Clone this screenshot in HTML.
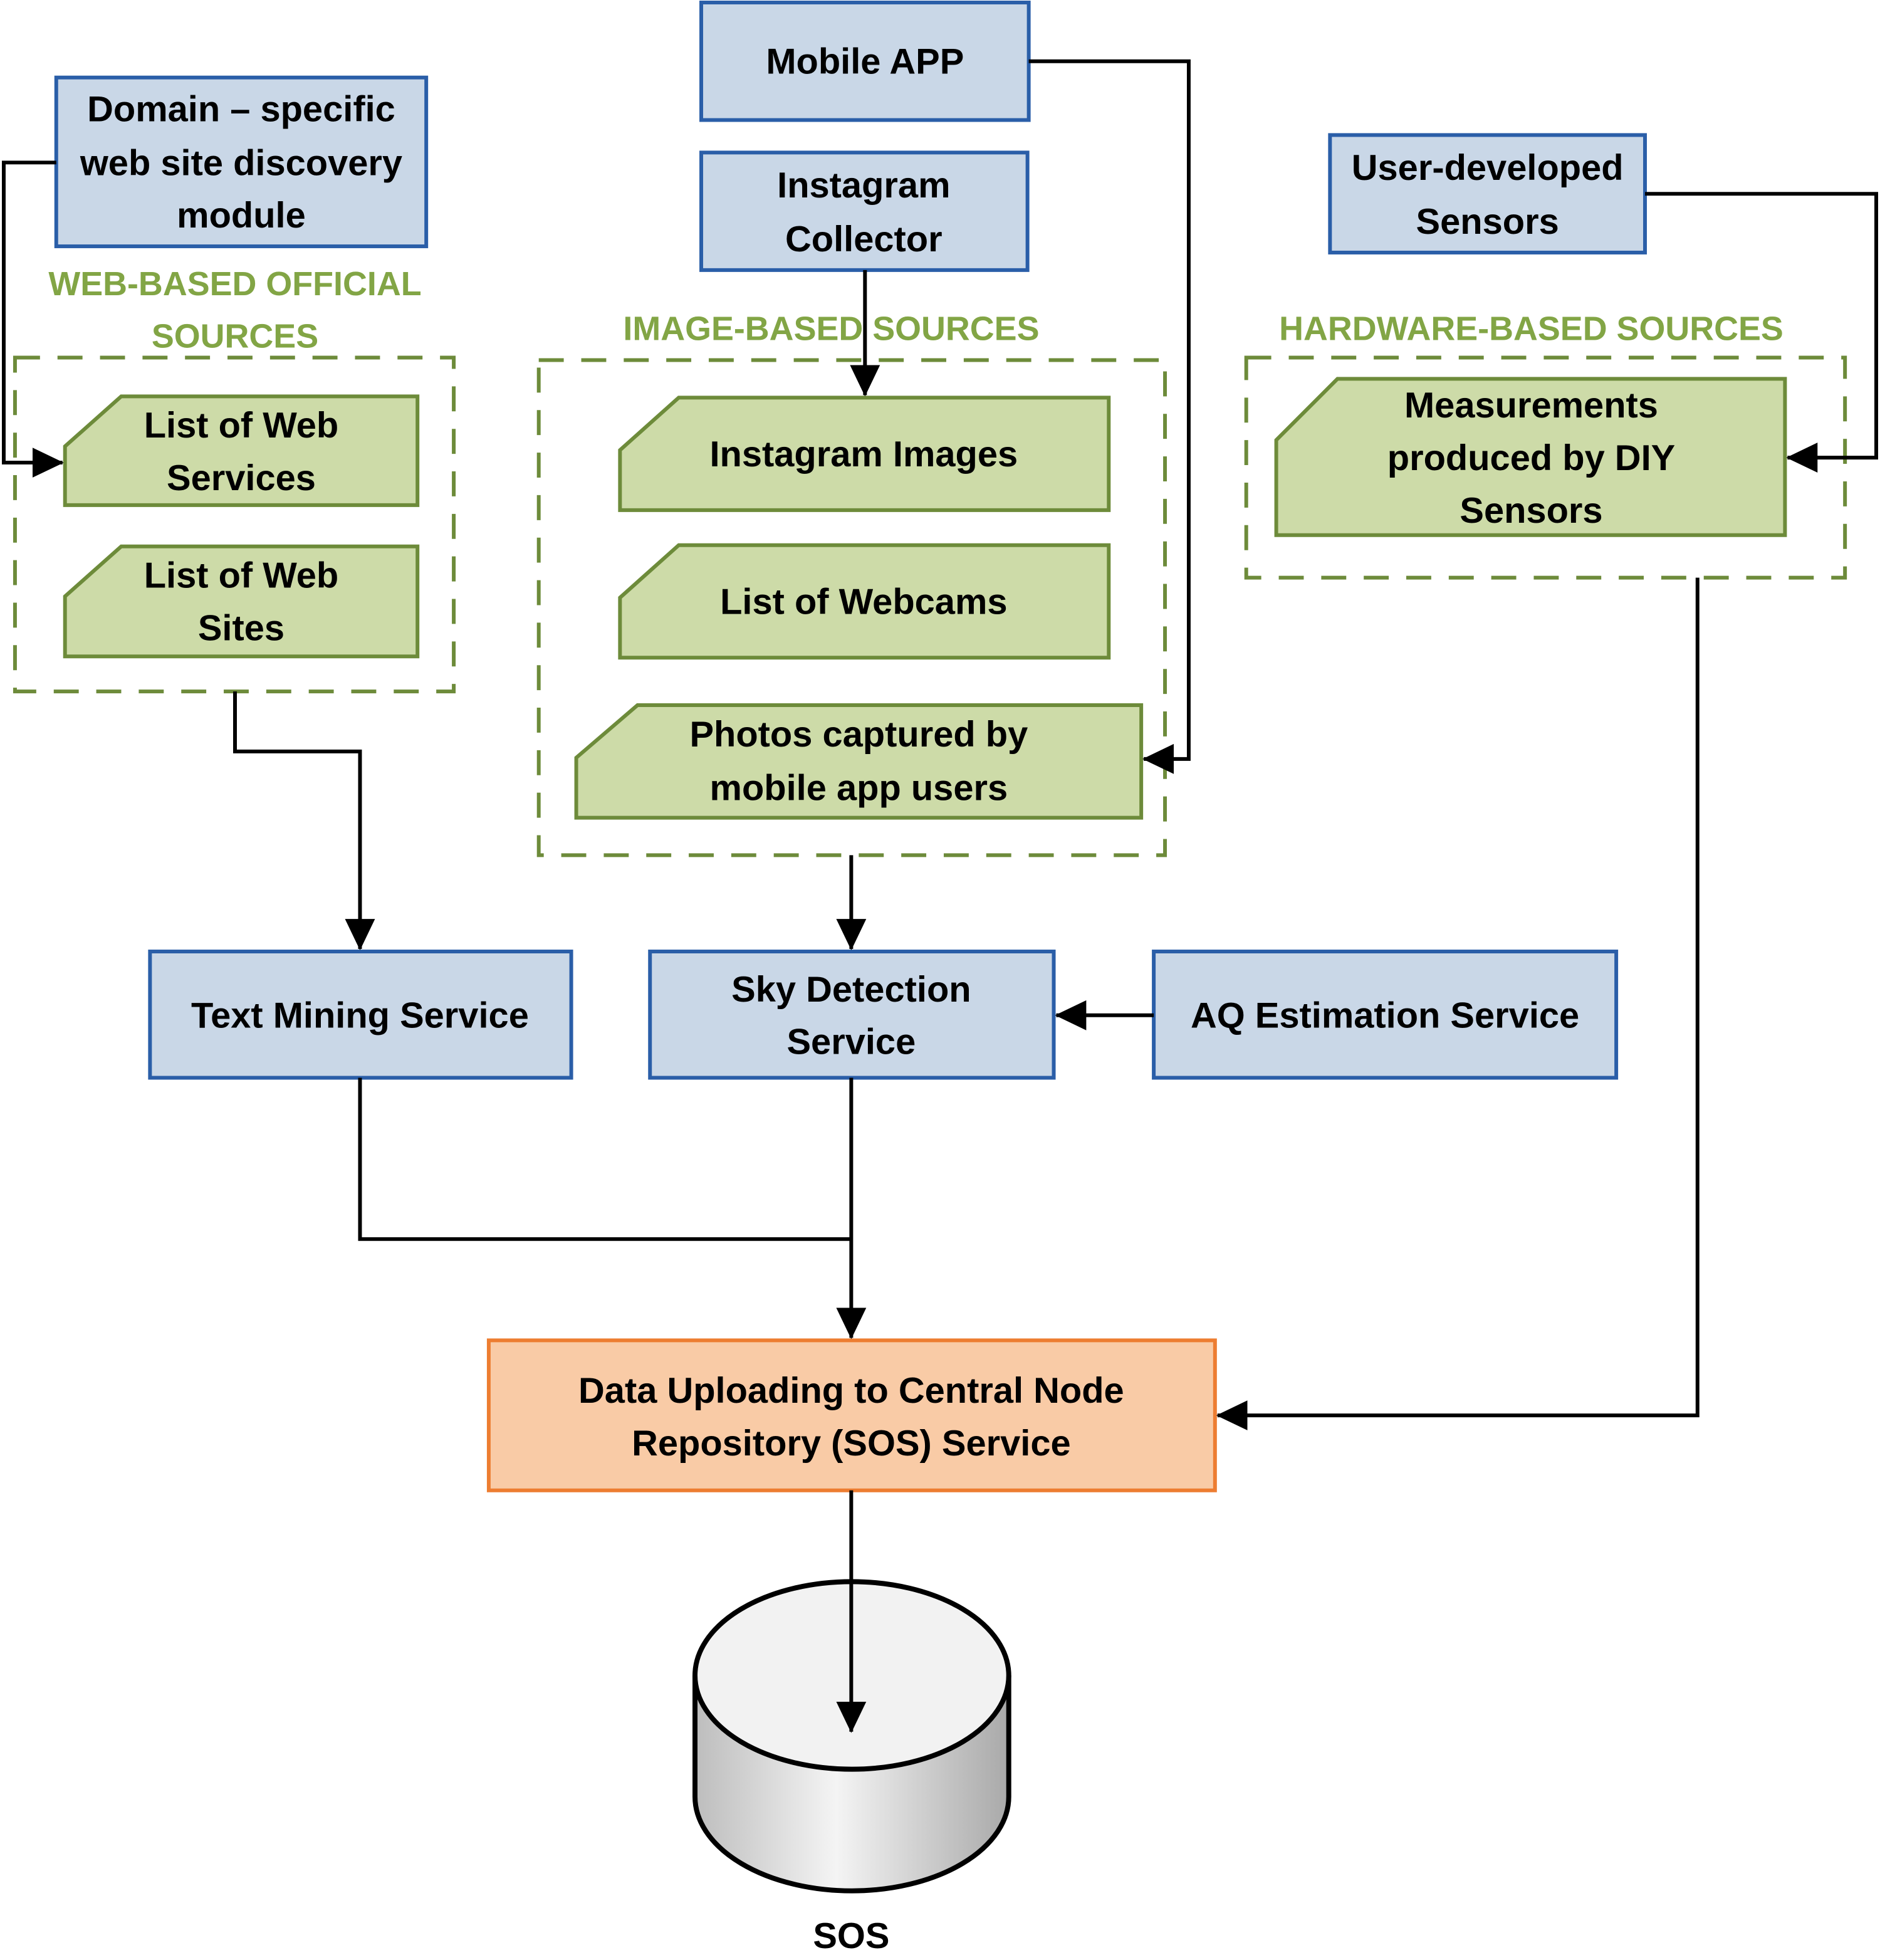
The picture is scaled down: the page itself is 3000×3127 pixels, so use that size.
<!DOCTYPE html>
<html><head><meta charset="utf-8"><style>
html,body{margin:0;padding:0;background:#fff}
svg{display:block}
text{font-family:"Liberation Sans",sans-serif;font-weight:bold}
</style></head><body>
<svg width="3000" height="3127" viewBox="0 0 1504 1567.6" preserveAspectRatio="none" xmlns="http://www.w3.org/2000/svg">
<defs>
<marker id="a" markerUnits="userSpaceOnUse" markerWidth="26" markerHeight="26" viewBox="0 0 26 26" refX="24" refY="13" orient="auto">
<path d="M0,1 L25,13 L0,25 Z" fill="#000"/></marker>
<linearGradient id="g" x1="0" x2="1" y1="0" y2="0">
<stop offset="0" stop-color="#bdbdbd"/><stop offset="0.45" stop-color="#f4f4f4"/><stop offset="1" stop-color="#a9a9a9"/></linearGradient>
</defs>
<g fill="#c9d7e7" stroke="#2a5ea8" stroke-width="3">
<rect x="45" y="62" width="296" height="135"/>
<rect x="561" y="2" width="262" height="94"/>
<rect x="561" y="122" width="261" height="94"/>
<rect x="1064" y="108" width="252" height="94"/>
<rect x="120" y="761" width="337" height="101"/>
<rect x="520" y="761" width="323" height="101"/>
<rect x="923" y="761" width="370" height="101"/>
</g>
<rect x="391" y="1072" width="581" height="120" fill="#f9cba6" stroke="#ed7d31" stroke-width="3"/>
<g fill="none" stroke="#6d8b3a" stroke-width="3" stroke-dasharray="20,14">
<rect x="12" y="286" width="351" height="267"/>
<rect x="431" y="288" width="501" height="396"/>
<rect x="997" y="286" width="479" height="176"/>
</g>
<g fill="#cddba8" stroke="#6d8b3a" stroke-width="3">
<path d="M97,317 H334 V404 H52 V357 Z"/>
<path d="M97,437 H334 V525 H52 V477 Z"/>
<path d="M543,318 H887 V408 H496 V360 Z"/>
<path d="M543,436 H887 V526 H496 V478 Z"/>
<path d="M510,564 H913 V654 H461 V606 Z"/>
<path d="M1070,303 H1428 V428 H1021 V352 Z"/>
</g>
<path d="M556,1340 V1437 A125,75 0 0 0 807,1437 V1340" fill="url(#g)" stroke="#000" stroke-width="4"/>
<ellipse cx="681.5" cy="1340" rx="125.5" ry="75" fill="#f2f2f2" stroke="#000" stroke-width="4"/>
<g fill="none" stroke="#000" stroke-width="3">
<path d="M45,130 H3 V370 H50" marker-end="url(#a)"/>
<path d="M823,49 H951 V607 H915" marker-end="url(#a)"/>
<path d="M692,216 V316" marker-end="url(#a)"/>
<path d="M1316,155 H1501 V366 H1430" marker-end="url(#a)"/>
<path d="M188,553 V601 H288 V759" marker-end="url(#a)"/>
<path d="M681,684 V759" marker-end="url(#a)"/>
<path d="M923,812 H845" marker-end="url(#a)"/>
<path d="M288,862 V991 H681"/>
<path d="M681,862 V1070" marker-end="url(#a)"/>
<path d="M1358,462 V1132 H974" marker-end="url(#a)"/>
<path d="M681,1192 V1385" marker-end="url(#a)"/>
</g>
<g font-size="29" text-anchor="middle" fill="#000">
<text x="193" y="97">Domain – specific</text>
<text x="193" y="140">web site discovery</text>
<text x="193" y="182">module</text>
<text x="692" y="59">Mobile APP</text>
<text x="691" y="158">Instagram</text>
<text x="691" y="201">Collector</text>
<text x="1190" y="144">User-developed</text>
<text x="1190" y="187">Sensors</text>
<text x="193" y="350">List of Web</text>
<text x="193" y="392">Services</text>
<text x="193" y="470">List of Web</text>
<text x="193" y="512">Sites</text>
<text x="691" y="373">Instagram Images</text>
<text x="691" y="491">List of Webcams</text>
<text x="687" y="597">Photos captured by</text>
<text x="687" y="640">mobile app users</text>
<text x="1225" y="334">Measurements</text>
<text x="1225" y="376">produced by DIY</text>
<text x="1225" y="418">Sensors</text>
<text x="288" y="822">Text Mining Service</text>
<text x="681" y="801">Sky Detection</text>
<text x="681" y="843">Service</text>
<text x="1108" y="822">AQ Estimation Service</text>
<text x="681" y="1122">Data Uploading to Central Node</text>
<text x="681" y="1164">Repository (SOS) Service</text>
<text x="681" y="1558">SOS</text>
</g>
<g font-size="27" text-anchor="middle" fill="#82a545">
<text x="188" y="236">WEB-BASED OFFICIAL</text>
<text x="188" y="278">SOURCES</text>
<text x="665" y="272">IMAGE-BASED SOURCES</text>
<text x="1225" y="272">HARDWARE-BASED SOURCES</text>
</g>
</svg>
</body></html>
